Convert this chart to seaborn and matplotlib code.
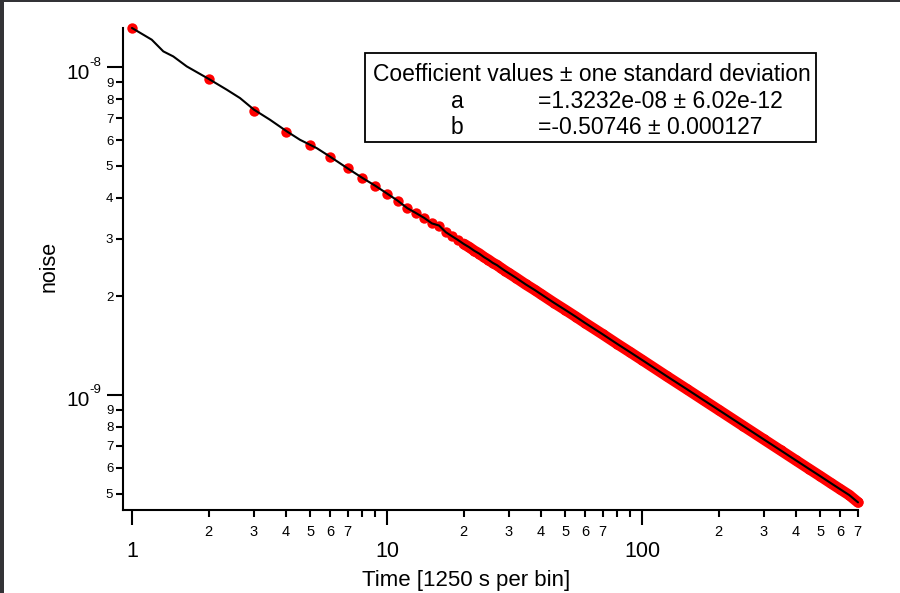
import matplotlib
matplotlib.use("Agg")
import matplotlib.pyplot as plt
import matplotlib.transforms as mtransforms
import seaborn as sns
import pandas as pd
from matplotlib.ticker import FixedLocator, FixedFormatter
from matplotlib.patches import Rectangle

# Binned noise measurement (bin index, noise in units of 1e-9)
bin_index = list(range(1, 31)) + [32, 35, 38, 40, 45, 50, 55, 60, 70, 80, 90, 100,
                                  125, 150, 175, 200, 250, 300, 350, 400, 450, 500,
                                  550, 600, 650, 703]
noise_e9 = [13.19, 9.24, 7.34, 6.35, 5.78, 5.33, 4.92, 4.60, 4.35, 4.12,
            3.92, 3.72, 3.59, 3.47, 3.34, 3.29, 3.14, 3.05, 2.97, 2.89,
            2.825, 2.755, 2.70, 2.635, 2.585, 2.53, 2.49, 2.44, 2.395, 2.355,
            2.28, 2.175, 2.09, 2.035, 1.915, 1.818, 1.733, 1.656, 1.533, 1.431,
            1.349, 1.279, 1.141, 1.041, 0.9625, 0.8995, 0.803, 0.732, 0.677,
            0.6325, 0.5958, 0.565, 0.538, 0.5148, 0.4945, 0.470]

# Finer-resolution trace over the first few bins
trace_time = [1.0, 1.195, 1.327, 1.452, 1.639, 2.0, 2.352, 2.652, 3.008,
              3.477, 4.044, 4.56, 5.3]
trace_e9 = [13.19, 12.15, 11.19, 10.80, 10.07, 9.22, 8.55, 8.06, 7.43,
            6.92, 6.38, 6.01, 5.67]

# Power-law fit y = a * x^b
a_coef, a_sigma = 1.3232e-08, 6.02e-12
b_coef, b_sigma = -0.50746, 0.000127

x_major = [1, 10, 100]
x_major_labels = ["1", "10", "100"]
y_major = [1e-9, 1e-8]
y_major_exponents = ["-9", "-8"]

points = pd.DataFrame({"time": bin_index, "noise": [v * 1e-9 for v in noise_e9]})
trace = pd.DataFrame({
    "time": trace_time + [t for t in bin_index if t >= 6],
    "noise": [v * 1e-9 for v in trace_e9]
    + [v * 1e-9 for t, v in zip(bin_index, noise_e9) if t >= 6],
})
band = points[points["time"] >= 20]

sns.set_theme(style="ticks")
plt.rcParams.update({
    "font.family": ["Liberation Sans", "DejaVu Sans"],
    "axes.edgecolor": "black",
    "axes.labelcolor": "black",
    "text.color": "black",
    "xtick.color": "black",
    "ytick.color": "black",
})

fig = plt.figure(figsize=(9, 5.93), dpi=100)
fig.patch.set_facecolor("white")
ax = fig.add_axes([123 / 900, 83 / 593, 735 / 900, 482 / 593])
ax.set_xscale("log")
ax.set_yscale("log")

red = "#ff0000"
sns.lineplot(data=band, x="time", y="noise", color=red, linewidth=7.8,
             estimator=None, sort=False, ax=ax, zorder=2, clip_on=False,
             solid_capstyle="round", solid_joinstyle="round")
sns.scatterplot(data=points, x="time", y="noise", color=red, s=56, linewidth=0,
                ax=ax, zorder=3, clip_on=False)
sns.lineplot(data=trace, x="time", y="noise", color="black", linewidth=1.5,
             estimator=None, sort=False, ax=ax, zorder=4, clip_on=False)

ax.set_xlim(0.922, 703)
ax.set_ylim(4.454e-10, 1.319e-8)

# x ticks: decades labelled large, 2..7 labelled small
x_minor = [d * 10 ** k for k in range(3) for d in range(2, 10) if d * 10 ** k <= 703]
x_minor_labels = [str(int(str(int(v))[0])) if int(str(int(v))[0]) <= 7 else ""
                  for v in x_minor]
ax.xaxis.set_major_locator(FixedLocator(x_major))
ax.xaxis.set_major_formatter(FixedFormatter(x_major_labels))
ax.xaxis.set_minor_locator(FixedLocator(x_minor))
ax.xaxis.set_minor_formatter(FixedFormatter(x_minor_labels))

y_minor = [d * 1e-10 for d in range(5, 10)] + [d * 1e-9 for d in range(2, 10)]
y_minor_labels = [str(d) for d in range(5, 10)] + [str(d) for d in range(2, 10)]
ax.yaxis.set_major_locator(FixedLocator(y_major))
ax.yaxis.set_major_formatter(FixedFormatter(["", ""]))
ax.yaxis.set_minor_locator(FixedLocator(y_minor))
ax.yaxis.set_minor_formatter(FixedFormatter(y_minor_labels))

ax.tick_params(axis="x", which="major", direction="out", length=11, width=1.5,
               labelsize=15.5, pad=11)
ax.tick_params(axis="x", which="minor", direction="out", length=5, width=1.5,
               labelsize=10.5, pad=5.5)
ax.tick_params(axis="y", which="major", direction="out", length=11.5, width=1.5,
               labelsize=15, pad=1.5)
ax.tick_params(axis="y", which="minor", direction="out", length=5, width=1.5,
               labelsize=9.5, pad=2)

# Decade labels on the y axis: "10" with a raised exponent
blend = mtransforms.blended_transform_factory(ax.transAxes, ax.transData)
down = mtransforms.ScaledTranslation(0, -6 / 100, fig.dpi_scale_trans)
up = mtransforms.ScaledTranslation(0, 10.5 / 100, fig.dpi_scale_trans)
for val, expo in zip(y_major, y_major_exponents):
    ax.text((90 - 123) / 735, val, "10", fontsize=15, ha="right", va="center",
            transform=blend + down, clip_on=False)
    ax.text((89.5 - 123) / 735, val, expo, fontsize=9.5, ha="left", va="top",
            transform=blend + up, clip_on=False)

for side in ("top", "right"):
    ax.spines[side].set_visible(False)
for side in ("left", "bottom"):
    ax.spines[side].set_linewidth(1.5)

ax.set_xlabel("Time [1250 s per bin]", fontsize=16)
ax.xaxis.set_label_coords(0.4667, -0.124)
ax.set_ylabel("noise", fontsize=15.5)
ax.yaxis.set_label_coords(-0.0864, 0.505)

# Fit coefficient box
H = 593.0
fig.add_artist(Rectangle((365 / 900, 1 - 142 / H), (816 - 365) / 900, (142 - 53) / H,
                         transform=fig.transFigure, fill=False, lw=1.3,
                         ec="black"))
fs = 16.5
fig.text(373 / 900, 1 - 80.7 / H, "Coefficient values \u00b1 one standard deviation",
         fontsize=fs, ha="left", va="baseline")
fig.text(457 / 900, 1 - 108.3 / H, "a", fontsize=fs, ha="center", va="baseline")
fig.text(538 / 900, 1 - 108.3 / H, f"={a_coef:.4e} \u00b1 {a_sigma:.2e}",
         fontsize=fs, ha="left", va="baseline")
fig.text(457 / 900, 1 - 134.3 / H, "b", fontsize=fs, ha="center", va="baseline")
fig.text(538 / 900, 1 - 134.3 / H, f"={b_coef:.5f} \u00b1 {b_sigma:.6f}",
         fontsize=fs, ha="left", va="baseline")

# Window frame edges
frame = "#333336"
fig.add_artist(Rectangle((0, 0), 4 / 900, 1, transform=fig.transFigure,
                         color=frame, lw=0))
fig.add_artist(Rectangle((0, 1 - 2 / H), 1, 2 / H, transform=fig.transFigure,
                         color=frame, lw=0))

fig.savefig("out.png", dpi=100)
